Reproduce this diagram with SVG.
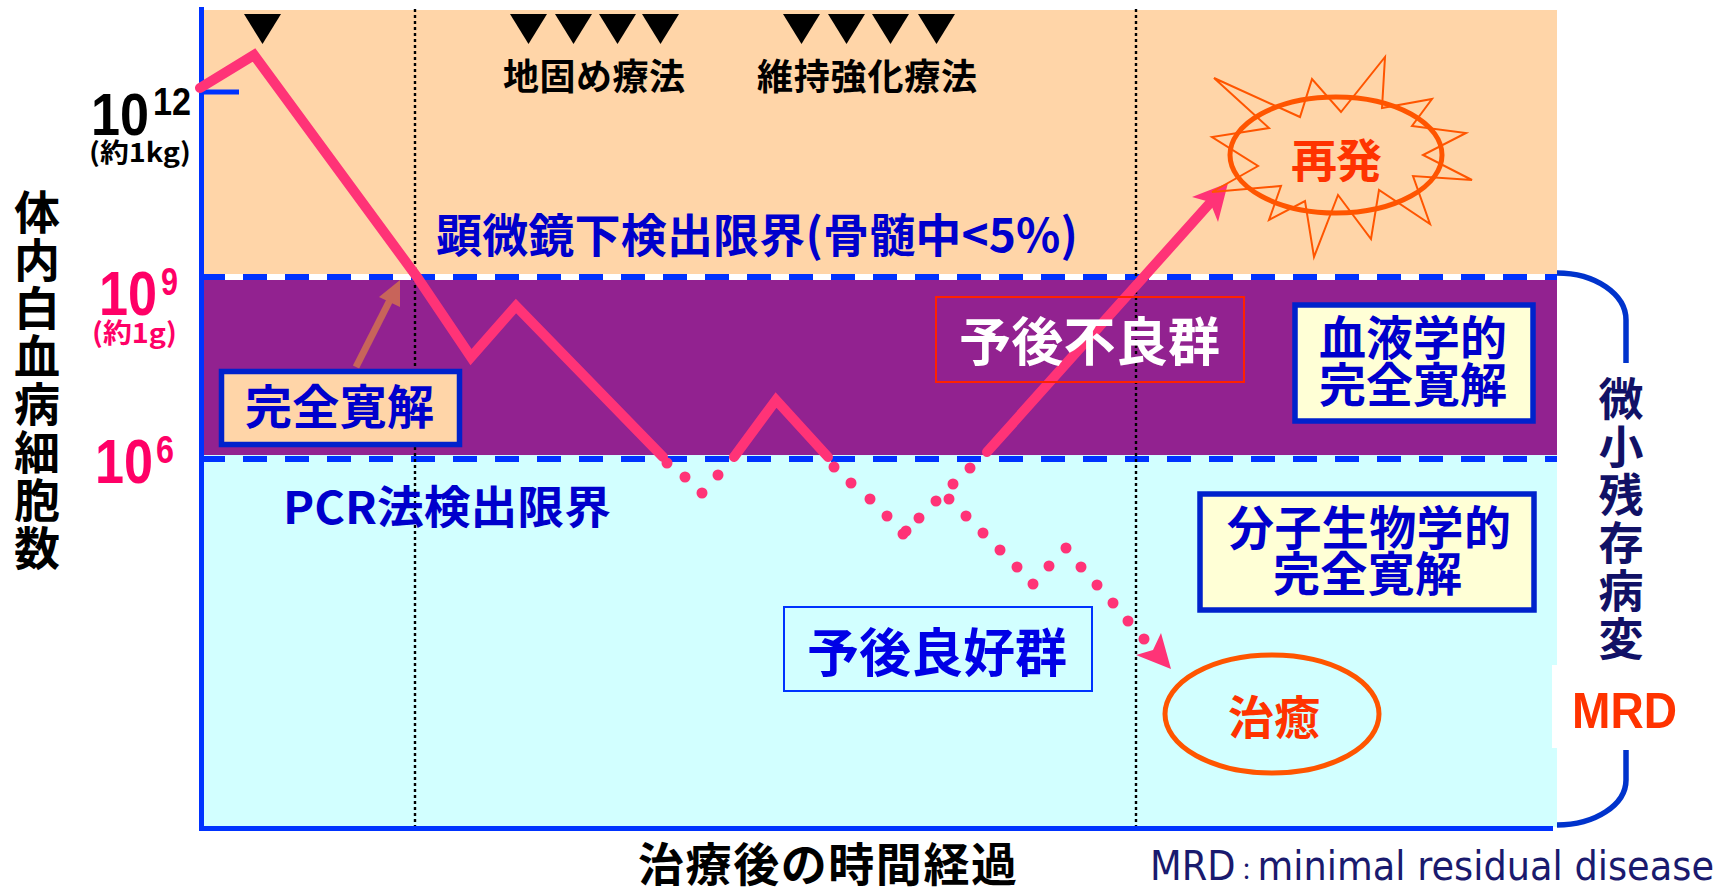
<svg xmlns="http://www.w3.org/2000/svg" width="1736" height="888" viewBox="0 0 1736 888">
<style>
.jp{font-family:"Noto Sans CJK JP","Noto Sans CJK SC",sans-serif;font-weight:bold}
.num{font-family:"Liberation Sans","Noto Sans CJK JP",sans-serif;font-weight:bold}
.pink{fill:#FF0066}
.bt{fill:#0000CC}
.dot{fill:#FF3377}
.curve{fill:none;stroke:#FF3377;stroke-width:10;stroke-linejoin:miter;stroke-linecap:round}
.vdot{stroke:#000;stroke-width:2.4;stroke-dasharray:3 3}
.hdash{stroke:#0033FF;stroke-width:6;stroke-dasharray:24 18;stroke-dashoffset:3}
.box{stroke:#0022CC;stroke-width:5.5}
.tri{fill:#000}
</style>
<rect width="1736" height="888" fill="#fff"/>
<g id="background">
  <rect x="204" y="10" width="1353" height="264" fill="#FFD5A8"/>
  <rect x="204" y="280" width="1353" height="175" fill="#922290"/>
  <rect x="204" y="455" width="1353" height="372" fill="#D2FFFF"/>
  <rect x="1552" y="665" width="140" height="83" fill="#fff"/>
  <line class="hdash" x1="204" y1="277" x2="1557" y2="277"/>
  <line class="hdash" x1="204" y1="459" x2="1557" y2="459"/>
  <line class="vdot" x1="415" y1="9" x2="415" y2="826"/>
  <line class="vdot" x1="1136" y1="9" x2="1136" y2="826"/>
</g>
<g id="axes" stroke="#0033FF" stroke-width="5" fill="none">
  <line x1="201.5" y1="7" x2="201.5" y2="831"/>
  <line x1="199" y1="828.5" x2="1553" y2="828.5"/>
  <line x1="202" y1="92" x2="239" y2="92"/>
</g>
<g id="y-labels">
  <text class="num" x="91" y="135" font-size="59" textLength="58" lengthAdjust="spacingAndGlyphs">10</text>
  <text class="num" x="153" y="115" font-size="39" textLength="38" lengthAdjust="spacingAndGlyphs">12</text>
  <text class="jp" x="89" y="162" font-size="26" textLength="102" lengthAdjust="spacingAndGlyphs">(約1kg)</text>
  <text class="num pink" x="99" y="315" font-size="63" textLength="58" lengthAdjust="spacingAndGlyphs">10</text>
  <text class="num pink" x="161" y="295" font-size="39" textLength="17" lengthAdjust="spacingAndGlyphs">9</text>
  <text class="jp pink" x="92" y="343" font-size="27" textLength="85" lengthAdjust="spacingAndGlyphs">(約1g)</text>
  <text class="num pink" x="95" y="483" font-size="63" textLength="58" lengthAdjust="spacingAndGlyphs">10</text>
  <text class="num pink" x="156" y="463" font-size="39" textLength="18" lengthAdjust="spacingAndGlyphs">6</text>
</g>
<g id="y-axis-title">
  <text class="jp" x="37" y="229" font-size="46" text-anchor="middle" fill="#000"><tspan x="37">体</tspan><tspan x="37" dy="48">内</tspan><tspan x="37" dy="48">白</tspan><tspan x="37" dy="48">血</tspan><tspan x="37" dy="48">病</tspan><tspan x="37" dy="48">細</tspan><tspan x="37" dy="48">胞</tspan><tspan x="37" dy="48">数</tspan></text>
</g>
<g id="therapy-marks">
  <polygon class="tri" points="244,14 281,14 262.5,44"/>
  <polygon class="tri" points="510,14 547,14 528.5,44"/>
  <polygon class="tri" points="555,14 592,14 573.5,44"/>
  <polygon class="tri" points="599,14 636,14 617.5,44"/>
  <polygon class="tri" points="642,14 679,14 660.5,44"/>
  <polygon class="tri" points="783,14 820,14 801.5,44"/>
  <polygon class="tri" points="828,14 865,14 846.5,44"/>
  <polygon class="tri" points="872,14 909,14 890.5,44"/>
  <polygon class="tri" points="918,14 955,14 936.5,44"/>
  <text class="jp" x="503" y="90" font-size="36" textLength="182" fill="#000">地固め療法</text>
  <text class="jp" x="757" y="90" font-size="36" textLength="220" fill="#000">維持強化療法</text>
</g>
<g id="limit-labels">
  <text class="jp bt" x="436" y="252" font-size="46" textLength="642">顕微鏡下検出限界(骨髄中&lt;5%)</text>
  <text class="jp bt" x="283" y="524" font-size="45" textLength="328" lengthAdjust="spacingAndGlyphs">PCR法検出限界</text>
</g>
<g id="connectors">
  <polyline class="curve" points="200,88 254,55 417,277 471,357 516,306 663,457"/>
  <polyline class="curve" points="734,457 776,400 828,457"/>
  <line class="curve" x1="987" y1="452" x2="1210" y2="203"/>
  <polygon fill="#FF3377" points="1228,183 1192,197 1210,202 1218,222"/>
  <g class="dot">
    <circle cx="667" cy="463" r="5.5"/><circle cx="685" cy="477" r="5.5"/><circle cx="702" cy="493" r="5.5"/><circle cx="718" cy="475" r="5.5"/>
    <circle cx="834" cy="467" r="5.5"/><circle cx="851" cy="483" r="5.5"/><circle cx="870" cy="499" r="5.5"/><circle cx="887" cy="516" r="5.5"/>
    <circle cx="903" cy="534" r="5.5"/><circle cx="906" cy="531" r="5.5"/><circle cx="919" cy="518" r="5.5"/><circle cx="936" cy="501" r="5.5"/>
    <circle cx="953" cy="484" r="5.5"/><circle cx="970" cy="468" r="5.5"/>
    <circle cx="949" cy="499" r="5.5"/><circle cx="966" cy="516" r="5.5"/><circle cx="983" cy="533" r="5.5"/><circle cx="1000" cy="550" r="5.5"/>
    <circle cx="1017" cy="567" r="5.5"/><circle cx="1033" cy="584" r="5.5"/><circle cx="1049" cy="566" r="5.5"/><circle cx="1066" cy="548" r="5.5"/>
    <circle cx="1081" cy="567" r="5.5"/><circle cx="1097" cy="585" r="5.5"/><circle cx="1113" cy="603" r="5.5"/><circle cx="1128" cy="621" r="5.5"/>
    <circle cx="1144" cy="639" r="5.5"/>
  </g>
  <polygon fill="#FF3377" points="1171,669 1136,655 1153,650 1161,633"/>
  <line x1="356" y1="367" x2="392" y2="296" stroke="#C8645A" stroke-width="7"/>
  <polygon fill="#C8645A" points="400,280 379,297 400,307"/>
</g>
<g id="node-cr">
  <rect class="box" x="221.5" y="371.5" width="238" height="73" fill="#FFD5A8"/>
  <text class="jp bt" x="245" y="424" font-size="47" textLength="189">完全寛解</text>
</g>
<g id="node-poor">
  <rect x="936" y="297" width="308" height="85" fill="none" stroke="#FF2200" stroke-width="2"/>
  <text class="jp" x="959" y="361" font-size="52" textLength="261" fill="#fff">予後不良群</text>
</g>
<g id="node-hcr">
  <rect class="box" x="1295" y="305" width="238" height="116" fill="#FFFFD6"/>
  <text class="jp bt" x="1319" y="355" font-size="47" textLength="188">血液学的</text>
  <text class="jp bt" x="1319" y="402" font-size="47" textLength="188">完全寛解</text>
</g>
<g id="node-mcr">
  <rect class="box" x="1200" y="494" width="334" height="116" fill="#FFFFD6"/>
  <text class="jp bt" x="1227" y="545" font-size="47" textLength="284">分子生物学的</text>
  <text class="jp bt" x="1273" y="591" font-size="47" textLength="189">完全寛解</text>
</g>
<g id="node-good">
  <rect x="784" y="607" width="308" height="84" fill="none" stroke="#0033FF" stroke-width="2"/>
  <text class="jp" x="807" y="672" font-size="52" textLength="260" fill="#0000E6">予後良好群</text>
</g>
<g id="node-relapse">
  <polygon fill="none" stroke="#FF5500" stroke-width="2" points="1214,78 1300,117 1312,79 1341,112 1385,57 1382,108 1432,99 1412,126 1466,133 1423,155 1472,180 1413,176 1430,224 1379,190 1371,239 1338,195 1314,257 1305,201 1269,220 1281,186 1212,192 1258,166 1212,137 1269,128"/>
  <ellipse cx="1336" cy="155" rx="106" ry="58" fill="none" stroke="#FF5500" stroke-width="5"/>
  <text class="jp" x="1291" y="177" font-size="46" textLength="91" fill="#FF3300">再発</text>
</g>
<g id="node-cure">
  <ellipse cx="1272" cy="714" rx="107" ry="59" fill="none" stroke="#FF5500" stroke-width="5"/>
  <text class="jp" x="1228" y="734" font-size="46" textLength="92" fill="#FF3300">治癒</text>
</g>
<g id="mrd-brace">
  <path d="M1557,273 A69,47 0 0 1 1626,320 L1626,363 M1626,750 L1626,780 A69,45 0 0 1 1557,825" fill="none" stroke="#0033CC" stroke-width="5.5"/>
  <text class="jp" x="1621" y="416" font-size="45" text-anchor="middle" fill="#111166"><tspan x="1621">微</tspan><tspan x="1621" dy="48">小</tspan><tspan x="1621" dy="48">残</tspan><tspan x="1621" dy="48">存</tspan><tspan x="1621" dy="48">病</tspan><tspan x="1621" dy="48">変</tspan></text>
  <text class="num" x="1572" y="728" font-size="50" textLength="105" lengthAdjust="spacingAndGlyphs" fill="#FF3300">MRD</text>
</g>
<g id="x-labels">
  <text class="jp" x="638" y="881" font-size="46" textLength="379" fill="#000">治療後の時間経過</text>
  <text x="1150" y="880" font-family="DejaVu Sans, Noto Sans CJK JP, sans-serif" font-size="40" textLength="564" lengthAdjust="spacingAndGlyphs" fill="#1A1A6E">MRD<tspan font-size="24">：</tspan>minimal residual disease</text>
</g>
</svg>
